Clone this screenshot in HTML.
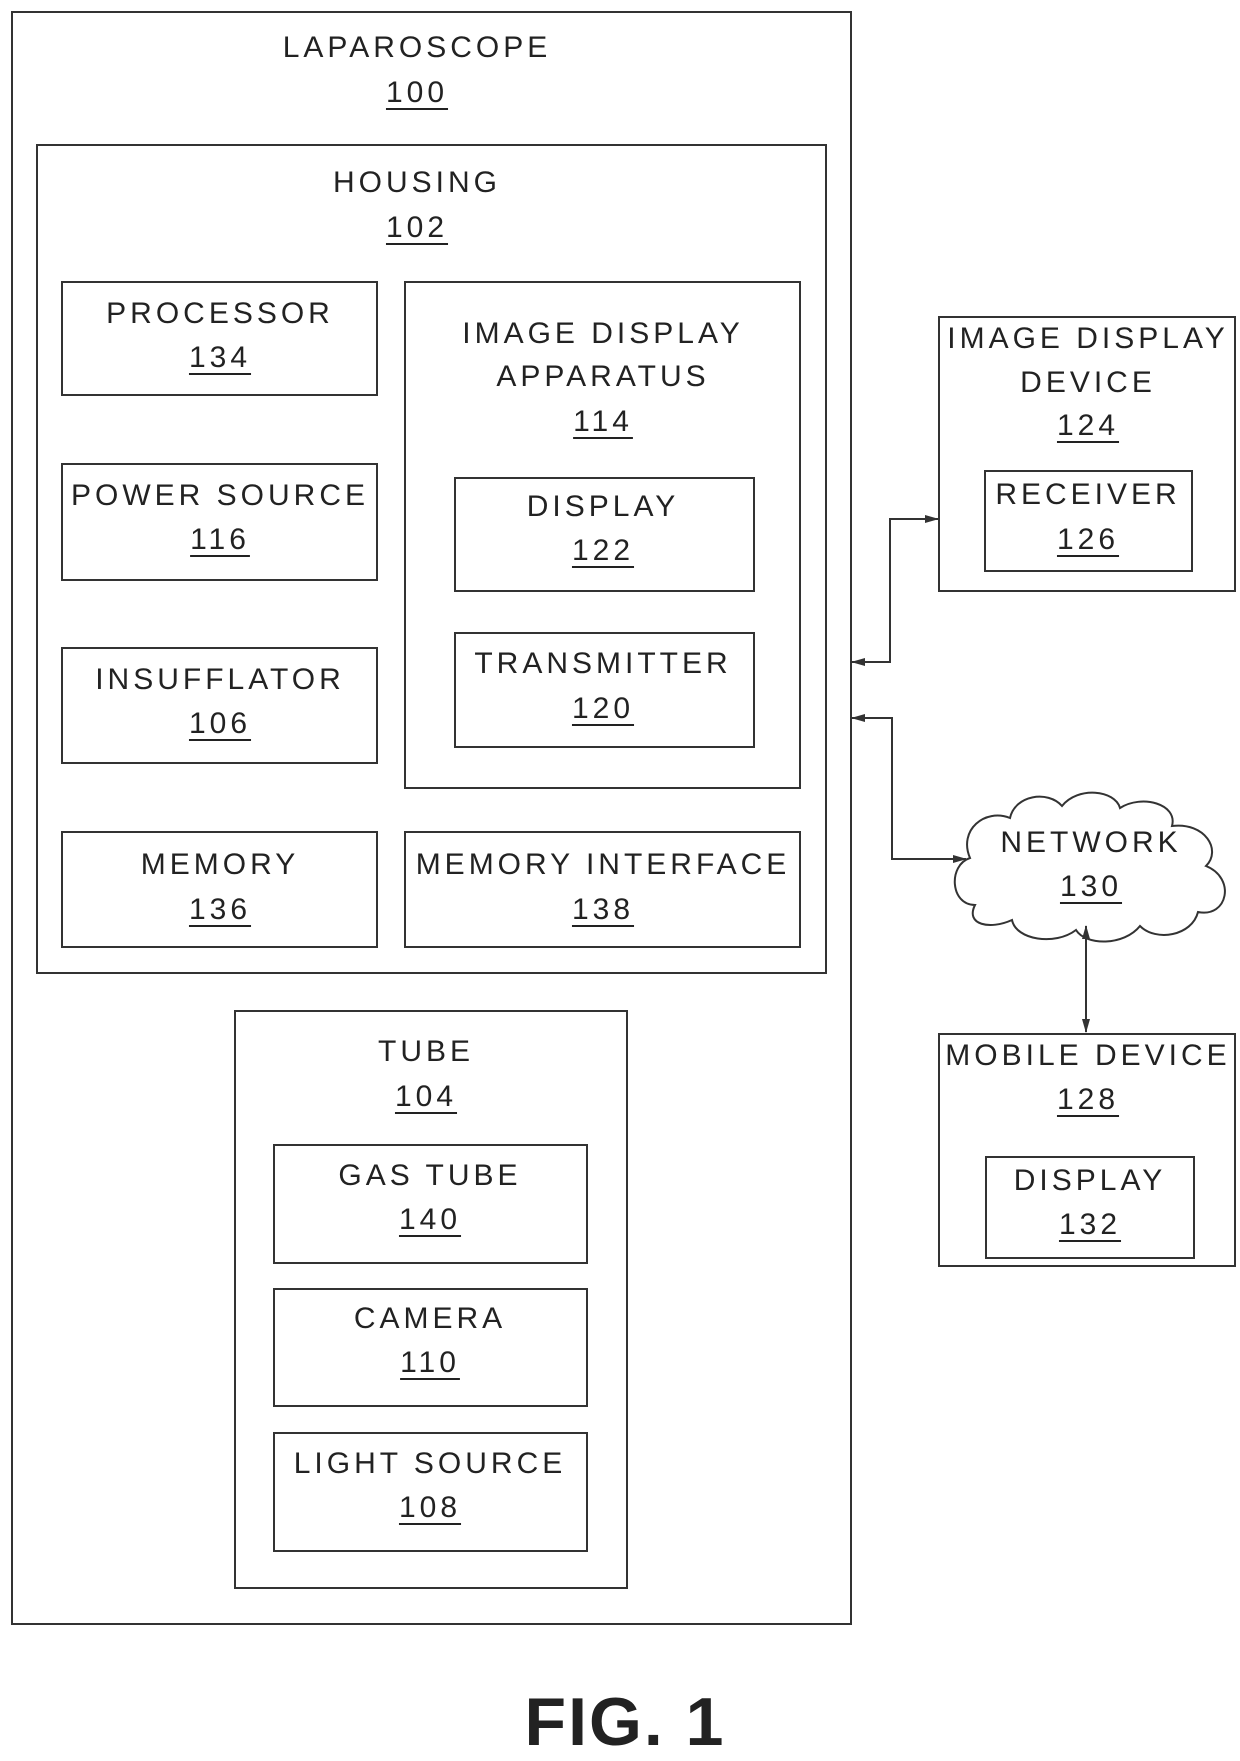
<!DOCTYPE html>
<html><head><meta charset="utf-8"><style>
html,body{margin:0;padding:0;background:#fff;}
body{width:1240px;height:1751px;position:relative;overflow:hidden;font-family:"Liberation Sans",Arial,sans-serif;color:#222;}
.b{position:absolute;border:2px solid #333;box-sizing:border-box;}
.t{position:absolute;height:44px;line-height:44px;font-size:30px;letter-spacing:4px;white-space:nowrap;transform:translateX(-50%);text-align:center;}
.u{text-decoration:underline;text-underline-offset:6px;text-decoration-thickness:2px;}
.fig{position:absolute;left:625px;top:1722px;transform:translate(-50%,-50%);font-size:68px;font-weight:bold;letter-spacing:2px;}
</style></head><body>
<div class="b" style="left:11px;top:11px;width:841px;height:1614px"></div>
<div class="b" style="left:36px;top:144px;width:791px;height:830px"></div>
<div class="b" style="left:61px;top:281px;width:317px;height:115px"></div>
<div class="b" style="left:61px;top:463px;width:317px;height:118px"></div>
<div class="b" style="left:61px;top:647px;width:317px;height:117px"></div>
<div class="b" style="left:61px;top:831px;width:317px;height:117px"></div>
<div class="b" style="left:404px;top:281px;width:397px;height:508px"></div>
<div class="b" style="left:454px;top:477px;width:301px;height:115px"></div>
<div class="b" style="left:454px;top:632px;width:301px;height:116px"></div>
<div class="b" style="left:404px;top:831px;width:397px;height:117px"></div>
<div class="b" style="left:234px;top:1010px;width:394px;height:579px"></div>
<div class="b" style="left:273px;top:1144px;width:315px;height:120px"></div>
<div class="b" style="left:273px;top:1288px;width:315px;height:119px"></div>
<div class="b" style="left:273px;top:1432px;width:315px;height:120px"></div>
<div class="b" style="left:938px;top:316px;width:298px;height:276px"></div>
<div class="b" style="left:984px;top:470px;width:209px;height:102px"></div>
<div class="b" style="left:938px;top:1033px;width:298px;height:234px"></div>
<div class="b" style="left:985px;top:1156px;width:210px;height:103px"></div>

<svg style="position:absolute;left:0;top:0" width="1240" height="1751">
<defs><marker id="a" markerWidth="14" markerHeight="10" refX="13" refY="5" orient="auto-start-reverse" markerUnits="userSpaceOnUse"><path d="M0,1 L14,5 L0,9 Z" fill="#333"/></marker></defs>
<g fill="none" stroke="#333" stroke-width="2">
<polyline points="852,662 890,662 890,519 938,519" marker-start="url(#a)" marker-end="url(#a)"/>
<polyline points="852,718 892,718 892,859 966,859" marker-start="url(#a)" marker-end="url(#a)"/>
<line x1="1086" y1="926" x2="1086" y2="1032" marker-start="url(#a)" marker-end="url(#a)"/>
<path d="M975,905 C950,905 948,865 970,858 C958,830 985,808 1010,818 C1015,795 1048,790 1062,806 C1078,786 1115,790 1120,808 C1142,794 1178,804 1172,826 C1205,822 1222,850 1206,866 C1236,878 1228,918 1198,912 C1192,936 1156,942 1140,926 C1124,946 1086,946 1076,930 C1055,946 1016,940 1012,920 C990,930 965,925 975,905 Z"/>
</g></svg>

<div class="t" style="left:417px;top:26px">LAPAROSCOPE</div>
<div class="t u" style="left:417px;top:71px">100</div>
<div class="t" style="left:417px;top:161px">HOUSING</div>
<div class="t u" style="left:417px;top:206px">102</div>
<div class="t" style="left:220px;top:292px">PROCESSOR</div>
<div class="t u" style="left:220px;top:336px">134</div>
<div class="t" style="left:220px;top:474px">POWER SOURCE</div>
<div class="t u" style="left:220px;top:518px">116</div>
<div class="t" style="left:220px;top:658px">INSUFFLATOR</div>
<div class="t u" style="left:220px;top:702px">106</div>
<div class="t" style="left:220px;top:843px">MEMORY</div>
<div class="t u" style="left:220px;top:888px">136</div>
<div class="t" style="left:603px;top:312px">IMAGE DISPLAY</div>
<div class="t" style="left:603px;top:355px">APPARATUS</div>
<div class="t u" style="left:603px;top:400px">114</div>
<div class="t" style="left:603px;top:485px">DISPLAY</div>
<div class="t u" style="left:603px;top:529px">122</div>
<div class="t" style="left:603px;top:642px">TRANSMITTER</div>
<div class="t u" style="left:603px;top:687px">120</div>
<div class="t" style="left:603px;top:843px">MEMORY INTERFACE</div>
<div class="t u" style="left:603px;top:888px">138</div>
<div class="t" style="left:426px;top:1030px">TUBE</div>
<div class="t u" style="left:426px;top:1075px">104</div>
<div class="t" style="left:430px;top:1154px">GAS TUBE</div>
<div class="t u" style="left:430px;top:1198px">140</div>
<div class="t" style="left:430px;top:1297px">CAMERA</div>
<div class="t u" style="left:430px;top:1341px">110</div>
<div class="t" style="left:430px;top:1442px">LIGHT SOURCE</div>
<div class="t u" style="left:430px;top:1486px">108</div>
<div class="t" style="left:1088px;top:317px">IMAGE DISPLAY</div>
<div class="t" style="left:1088px;top:361px">DEVICE</div>
<div class="t u" style="left:1088px;top:404px">124</div>
<div class="t" style="left:1088px;top:473px">RECEIVER</div>
<div class="t u" style="left:1088px;top:518px">126</div>
<div class="t" style="left:1091px;top:821px">NETWORK</div>
<div class="t u" style="left:1091px;top:865px">130</div>
<div class="t" style="left:1088px;top:1034px">MOBILE DEVICE</div>
<div class="t u" style="left:1088px;top:1078px">128</div>
<div class="t" style="left:1090px;top:1159px">DISPLAY</div>
<div class="t u" style="left:1090px;top:1203px">132</div>
<div class="fig">FIG. 1</div>
</body></html>
